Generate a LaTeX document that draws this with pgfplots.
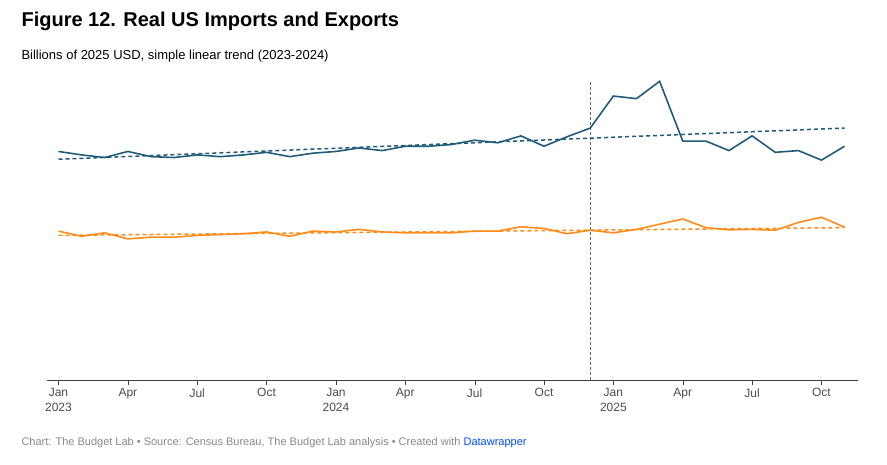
\documentclass[border=0pt]{standalone}
\usepackage{pgfplots}
\pgfplotsset{compat=1.18}
\usepackage{fontspec}
\setmainfont{Liberation Sans}
\definecolor{imp}{HTML}{1F5C78}
\definecolor{exo}{HTML}{FF8C1A}
\definecolor{tgrey}{HTML}{888888}
\begin{document}
\begin{tikzpicture}[x=1pt,y=1pt]
\path (0,0) rectangle (887,464);
\node[anchor=base west,font=\bfseries\fontsize{20}{24}\selectfont] at (18,437) {Figure 12. Real US Imports and Exports};
\node[anchor=base west,font=\fontsize{13}{16}\selectfont] at (18,404) {Billions of 2025 USD, simple linear trend (2023-2024)};
\node[anchor=base west,font=\fontsize{11}{13}\selectfont,text=tgrey] at (18,19) {Chart: The Budget Lab • Source: Census Bureau, The Budget Lab analysis • Created with \textcolor{blue!70!cyan}{Datawrapper}};
\begin{axis}[at={(58.5pt,84pt)},anchor=origin,
  scale only axis,width=811.5pt,height=303pt,
  xmin=-0.5,xmax=34.6,ymin=0,ymax=350,
  axis x line=bottom,axis y line=none,
  x axis line style={black!75,-},
  clip=false,
  ytick={0,50,100,150,200,250,300},
  yticklabels={0,50,100,150,200,250,\$300B},
  ymajorgrids,grid style={draw=black!10},
  xtick={0,3,6,9,12,15,18,21,24,27,30,33},
  xticklabels={{Jan\\2023},Apr,Jul,Oct,{Jan\\2024},Apr,Jul,Oct,{Jan\\2025},Apr,Jul,Oct},
  xtick pos=bottom, xtick align=outside, major tick length=5pt,
  x tick style={black!75},
  xticklabel style={align=center,font=\fontsize{12}{15}\selectfont,text=black!70,anchor=north,yshift=0pt},
  yticklabel style={font=\fontsize{12}{14}\selectfont,text=tgrey},
  ]
\draw[black!60,dash pattern=on 3pt off 2pt,thin] (axis cs:23,0) -- (axis cs:23,346);
\addplot[imp,line width=1.5pt,dash pattern=on 4pt off 3pt] coordinates {(0,255) (34,291)};
\addplot[exo,line width=1.5pt,dash pattern=on 4pt off 3pt] coordinates {(0,167) (34,176)};
\addplot[imp,line width=1.6pt] coordinates {
(0,264)(1,260)(2,257)(3,264)(4,258)(5,257)(6,260)(7,258)(8,260)(9,263)(10,258)(11,262)
(12,264)(13,268)(14,265)(15,270)(16,270)(17,272)(18,277)(19,274)(20,282)(21,270)(22,281)(23,291)
(24,328)(25,325)(26,345)(27,276)(28,276)(29,265)(30,282)(31,263)(32,265)(33,254)(34,270)};
\addplot[exo,line width=1.6pt] coordinates {
(0,172)(1,166)(2,170)(3,163)(4,165)(5,165)(6,167)(7,168)(8,169)(9,171)(10,166)(11,172)
(12,171)(13,174)(14,171)(15,170)(16,170)(17,170)(18,172)(19,172)(20,177)(21,175)(22,169)(23,173)
(24,170)(25,174)(26,180)(27,186)(28,176)(29,173.5)(30,174)(31,173)(32,182)(33,188)(34,176.5)};
\end{axis}
\end{tikzpicture}
\end{document}
